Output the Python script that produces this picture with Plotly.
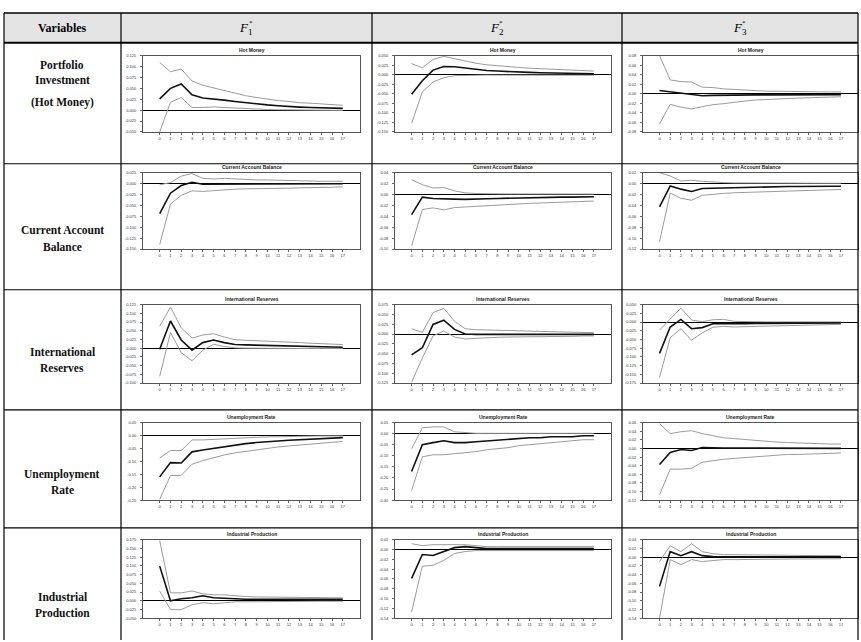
import plotly.graph_objects as go

W, H = 861, 642

horizons = list(range(18))
x_tick_labels = [str(h) for h in horizons]

variables = ["Hot Money", "Current Account Balance", "International Reserves",
             "Unemployment Rate", "Industrial Production"]
factor_labels = ["1", "2", "3"]

# ---------------- Hot Money ----------------
hot_f1_mid = [0.026, 0.050, 0.060, 0.035, 0.028, 0.026, 0.023, 0.020, 0.017, 0.014, 0.012, 0.010, 0.008, 0.007, 0.006, 0.005, 0.0045, 0.004]
hot_f1_up = [0.109, 0.088, 0.094, 0.067, 0.057, 0.051, 0.045, 0.039, 0.033, 0.029, 0.025, 0.022, 0.020, 0.017, 0.016, 0.014, 0.013, 0.011]
hot_f1_lo = [-0.050, 0.018, 0.029, 0.006, 0.006, 0.0075, 0.006, 0.0045, 0.003, 0.002, 0.0015, 0.001, 0.0005, 0.0, 0.0, -0.0005, -0.0005, -0.0005]

hot_f2_mid = [-0.051, -0.016, 0.012, 0.0215, 0.0207, 0.017, 0.0138, 0.011, 0.0095, 0.0078, 0.007, 0.006, 0.005, 0.0043, 0.0035, 0.0035, 0.0026, 0.0026]
hot_f2_up = [0.029, 0.018, 0.040, 0.048, 0.042, 0.035, 0.030, 0.026, 0.023, 0.021, 0.019, 0.017, 0.0155, 0.0138, 0.013, 0.011, 0.0103, 0.0095]
hot_f2_lo = [-0.127, -0.045, -0.019, -0.0078, -0.0026, -0.0017, -0.001, -0.001, -0.0012, -0.0012, -0.0013, -0.0013, -0.0014, -0.0014, -0.0015, -0.0015, -0.0015, -0.0015]

hot_f3_mid = [0.0069, 0.004, 0.0007, -0.0007, -0.004, -0.0034, -0.0028, -0.0025, -0.0024, -0.0023, -0.0022, -0.0022, -0.0021, -0.0021, -0.002, -0.002, -0.002, -0.002]
hot_f3_up = [0.080, 0.029, 0.0255, 0.0248, 0.0138, 0.013, 0.0103, 0.009, 0.0076, 0.0069, 0.0055, 0.0055, 0.0048, 0.0048, 0.004, 0.004, 0.004, 0.004]
hot_f3_lo = [-0.0634, -0.022, -0.028, -0.0317, -0.027, -0.0228, -0.0207, -0.0172, -0.0152, -0.013, -0.0117, -0.0103, -0.0097, -0.009, -0.0083, -0.0076, -0.0069, -0.0062]

# ---------------- Current Account Balance ----------------
cab_f1_mid = [-0.069, -0.022, -0.0045, 0.003, -0.0015, -0.0015, -0.001, -0.001, -0.001, -0.001, -0.0008, -0.0008, -0.0006, -0.0006, -0.0005, -0.0005, -0.0004, -0.0004]
cab_f1_up = [-0.003, 0.0023, 0.017, 0.023, 0.012, 0.0106, 0.012, 0.0106, 0.009, 0.0083, 0.0083, 0.0075, 0.0068, 0.0068, 0.006, 0.0053, 0.0053, 0.0053]
cab_f1_lo = [-0.1395, -0.0468, -0.027, -0.0166, -0.018, -0.0158, -0.0136, -0.0128, -0.012, -0.012, -0.0113, -0.0113, -0.0106, -0.0098, -0.0098, -0.009, -0.0083, -0.0075]

cab_f2_mid = [-0.037, -0.0048, -0.0072, -0.0084, -0.0084, -0.009, -0.009, -0.0078, -0.0072, -0.0066, -0.006, -0.0054, -0.0054, -0.0048, -0.0048, -0.0048, -0.0042, -0.0042]
cab_f2_up = [0.027, 0.018, 0.012, 0.0126, 0.0066, 0.003, 0.0018, 0.0012, 0.001, 0.001, 0.001, 0.001, 0.001, 0.0008, 0.0008, 0.0008, 0.0008, 0.0008]
cab_f2_lo = [-0.094, -0.0275, -0.0245, -0.0281, -0.024, -0.0228, -0.0216, -0.0198, -0.0192, -0.018, -0.0174, -0.0162, -0.0156, -0.015, -0.0144, -0.0138, -0.0126, -0.012]

cab_f3_mid = [-0.0425, -0.0042, -0.0102, -0.0144, -0.009, -0.0084, -0.0078, -0.0072, -0.0068, -0.0066, -0.006, -0.006, -0.0054, -0.0054, -0.0048, -0.0048, -0.0048, -0.0048]
cab_f3_up = [0.020, 0.0138, 0.0048, 0.006, 0.0042, 0.0024, 0.0018, 0.0012, 0.001, 0.001, 0.0008, 0.0008, 0.0008, 0.0006, 0.0006, 0.0006, 0.0006, 0.0006]
cab_f3_lo = [-0.1066, -0.0174, -0.027, -0.0305, -0.0216, -0.0192, -0.018, -0.0168, -0.0162, -0.0156, -0.015, -0.0144, -0.0138, -0.0132, -0.0126, -0.012, -0.0114, -0.0108]

# ---------------- International Reserves ----------------
ir_f1_mid = [-0.003, 0.078, 0.0236, -0.0057, 0.016, 0.0236, 0.016, 0.0104, 0.0094, 0.0085, 0.0075, 0.0066, 0.0057, 0.0047, 0.0047, 0.0038, 0.0038, 0.0028]
ir_f1_up = [0.063, 0.118, 0.0585, 0.029, 0.0377, 0.0415, 0.032, 0.0245, 0.0226, 0.0217, 0.0198, 0.018, 0.017, 0.016, 0.0142, 0.0132, 0.0113, 0.0104]
ir_f1_lo = [-0.081, 0.045, -0.013, -0.036, -0.0057, 0.0113, 0.0047, 0.001, 0.0, -0.0005, -0.0005, -0.0008, -0.0008, -0.001, -0.001, -0.001, -0.001, -0.001]

ir_f2_mid = [-0.053, -0.035, 0.0244, 0.0353, 0.0118, 0.0, -0.001, -0.001, -0.001, -0.001, -0.001, -0.001, -0.001, -0.001, -0.001, -0.001, -0.001, -0.001]
ir_f2_up = [0.0134, 0.0042, 0.0546, 0.0655, 0.0328, 0.0134, 0.011, 0.010, 0.010, 0.009, 0.0084, 0.0076, 0.0067, 0.006, 0.005, 0.0042, 0.0034, 0.0034]
ir_f2_lo = [-0.123, -0.0613, -0.005, 0.0076, -0.0076, -0.0126, -0.011, -0.0092, -0.0084, -0.0076, -0.0076, -0.0067, -0.0067, -0.0059, -0.0059, -0.0059, -0.005, -0.005]

ir_f3_mid = [-0.0898, -0.0142, 0.0076, -0.019, -0.016, -0.0047, -0.0038, -0.0047, -0.0047, -0.004, -0.0038, -0.0035, -0.0033, -0.003, -0.003, -0.0028, -0.0028, -0.0028]
ir_f3_up = [-0.0227, 0.0076, 0.040, 0.0057, 0.001, 0.0066, 0.0076, 0.002, 0.001, 0.0008, 0.0006, 0.0005, 0.0005, 0.0005, 0.0004, 0.0004, 0.0004, 0.0004]
ir_f3_lo = [-0.159, -0.045, -0.019, -0.052, -0.031, -0.015, -0.0123, -0.0142, -0.0132, -0.0123, -0.0113, -0.0104, -0.0095, -0.0085, -0.0076, -0.0076, -0.0066, -0.0066]

# ---------------- Unemployment Rate ----------------
ur_f1_mid = [-0.160, -0.1047, -0.106, -0.063, -0.0556, -0.049, -0.0426, -0.036, -0.031, -0.027, -0.023, -0.0207, -0.018, -0.0155, -0.013, -0.0116, -0.009, -0.0078]
ur_f1_up = [-0.0866, -0.058, -0.058, -0.0168, -0.0168, -0.0142, -0.0116, -0.009, -0.0078, -0.0065, -0.0052, -0.0039, -0.0039, -0.0026, -0.0026, -0.0013, -0.0013, -0.0013]
ur_f1_lo = [-0.247, -0.155, -0.154, -0.111, -0.097, -0.085, -0.075, -0.067, -0.061, -0.054, -0.049, -0.044, -0.040, -0.036, -0.032, -0.028, -0.026, -0.023]

ur_f2_mid = [-0.171, -0.05, -0.04, -0.032, -0.04, -0.04, -0.036, -0.032, -0.027, -0.025, -0.022, -0.018, -0.018, -0.0135, -0.0135, -0.0135, -0.009, -0.009]
ur_f2_up = [-0.068, 0.027, 0.031, 0.031, 0.009, 0.0045, 0.002, 0.002, 0.002, 0.002, 0.002, 0.002, 0.002, 0.002, 0.002, 0.002, 0.002, 0.002]
ur_f2_lo = [-0.257, -0.104, -0.095, -0.095, -0.09, -0.086, -0.081, -0.072, -0.068, -0.063, -0.054, -0.05, -0.045, -0.04, -0.036, -0.032, -0.027, -0.027]

ur_f3_mid = [-0.037, -0.009, -0.0023, -0.0046, 0.0023, 0.0012, 0.001, 0.001, 0.0008, 0.0008, 0.0006, 0.0006, 0.0005, 0.0005, 0.0004, 0.0004, 0.0003, 0.0003]
ur_f3_up = [0.0577, 0.0346, 0.039, 0.0415, 0.0346, 0.030, 0.025, 0.023, 0.021, 0.0185, 0.016, 0.015, 0.0138, 0.0127, 0.0115, 0.0115, 0.0104, 0.0104]
ur_f3_lo = [-0.108, -0.048, -0.048, -0.046, -0.032, -0.028, -0.025, -0.023, -0.021, -0.0185, -0.017, -0.016, -0.0138, -0.0138, -0.0127, -0.0115, -0.0115, -0.0104]

# ---------------- Industrial Production ----------------
ip_f1_mid = [0.0994, 0.0, 0.0057, 0.0085, 0.0142, 0.0085, 0.007, 0.005, 0.0045, 0.004, 0.004, 0.004, 0.004, 0.004, 0.004, 0.004, 0.004, 0.004]
ip_f1_up = [0.173, 0.0227, 0.0227, 0.028, 0.020, 0.017, 0.017, 0.014, 0.012, 0.011, 0.011, 0.010, 0.010, 0.0095, 0.009, 0.009, 0.0085, 0.0085]
ip_f1_lo = [0.028, -0.0256, -0.0256, -0.0114, -0.0057, -0.0085, -0.006, -0.003, -0.003, -0.0025, -0.0025, -0.002, -0.002, -0.002, -0.0015, -0.0015, -0.0015, -0.0015]

ip_f2_mid = [-0.0586, -0.0101, -0.012, -0.004, 0.004, 0.006, 0.004, 0.002, 0.002, 0.002, 0.002, 0.002, 0.002, 0.002, 0.002, 0.002, 0.002, 0.002]
ip_f2_up = [0.012, 0.008, 0.010, 0.010, 0.010, 0.010, 0.008, 0.006, 0.006, 0.006, 0.006, 0.006, 0.006, 0.006, 0.006, 0.006, 0.006, 0.006]
ip_f2_lo = [-0.127, -0.034, -0.032, -0.022, -0.008, -0.004, -0.002, -0.002, -0.002, -0.002, -0.002, -0.002, -0.002, -0.002, -0.002, -0.002, -0.002, -0.002]

ip_f3_mid = [-0.067, 0.0128, 0.0036, 0.0128, 0.0036, 0.0014, 0.001, 0.001, 0.001, 0.001, 0.001, 0.001, 0.001, 0.001, 0.001, 0.001, 0.001, 0.001]
ip_f3_up = [-0.010, 0.0264, 0.0128, 0.031, 0.0128, 0.008, 0.006, 0.006, 0.0055, 0.005, 0.005, 0.0045, 0.0045, 0.004, 0.004, 0.004, 0.0036, 0.0036]
ip_f3_lo = [-0.14, -0.0055, -0.017, -0.0055, -0.010, -0.0077, -0.0055, -0.0055, -0.005, -0.005, -0.0045, -0.0045, -0.004, -0.004, -0.004, -0.0035, -0.0035, -0.0035]

# y-axis tick values (bottom, top, step, decimals) per panel
hot_ticks = [(-0.050, 0.125, 0.025, 3), (-0.150, 0.050, 0.025, 3), (-0.08, 0.08, 0.02, 2)]
cab_ticks = [(-0.150, 0.025, 0.025, 3), (-0.10, 0.04, 0.02, 2), (-0.12, 0.02, 0.02, 2)]
ir_ticks = [(-0.100, 0.125, 0.025, 3), (-0.125, 0.075, 0.025, 3), (-0.175, 0.050, 0.025, 3)]
ur_ticks = [(-0.25, 0.05, 0.05, 2), (-0.30, 0.05, 0.05, 2), (-0.12, 0.06, 0.02, 2)]
ip_ticks = [(-0.050, 0.175, 0.025, 3), (-0.14, 0.02, 0.02, 2), (-0.14, 0.04, 0.02, 2)]

row_series = [
    [(hot_f1_mid, hot_f1_up, hot_f1_lo), (hot_f2_mid, hot_f2_up, hot_f2_lo), (hot_f3_mid, hot_f3_up, hot_f3_lo)],
    [(cab_f1_mid, cab_f1_up, cab_f1_lo), (cab_f2_mid, cab_f2_up, cab_f2_lo), (cab_f3_mid, cab_f3_up, cab_f3_lo)],
    [(ir_f1_mid, ir_f1_up, ir_f1_lo), (ir_f2_mid, ir_f2_up, ir_f2_lo), (ir_f3_mid, ir_f3_up, ir_f3_lo)],
    [(ur_f1_mid, ur_f1_up, ur_f1_lo), (ur_f2_mid, ur_f2_up, ur_f2_lo), (ur_f3_mid, ur_f3_up, ur_f3_lo)],
    [(ip_f1_mid, ip_f1_up, ip_f1_lo), (ip_f2_mid, ip_f2_up, ip_f2_lo), (ip_f3_mid, ip_f3_up, ip_f3_lo)],
]
row_ticks = [hot_ticks, cab_ticks, ir_ticks, ur_ticks, ip_ticks]

# ---------------- layout geometry (pixels) ----------------
col_frames = [(143, 360), (395, 611), (643, 858)]
row_frames = [(53, 130), (171, 248), (304, 383), (423, 501), (541, 620)]
col_lines = [4, 121, 372, 622, 858]
row_lines = [162, 289, 410, 529]


def px(x):
    return x / W


def py(y):
    return 1 - y / H


fig = go.Figure()
layout_axes = {}
annotations = []
shapes = []

SANS = "Liberation Sans"
SERIF = "Liberation Serif"

idx = 0
for r in range(5):
    for c in range(3):
        idx += 1
        xa = "x" if idx == 1 else f"x{idx}"
        ya = "y" if idx == 1 else f"y{idx}"
        mid, up, lo = row_series[r][c]
        for series, color, width in ((up, "#9b9b9b", 1.0), (lo, "#9b9b9b", 1.0), (mid, "#111111", 1.6)):
            fig.add_trace(go.Scatter(x=horizons, y=series, mode="lines", xaxis=xa, yaxis=ya,
                                     line=dict(color=color, width=width), showlegend=False,
                                     hoverinfo="skip"))
        lo_v, hi_v, step, dec = row_ticks[r][c]
        n = int(round((hi_v - lo_v) / step))
        tvals = [round(lo_v + k * step, 4) for k in range(n + 1)]
        ttext = [f"{v:.{dec}f}" if abs(v) > 1e-9 else f"{0:.{dec}f}" for v in tvals]
        x0, x1 = col_frames[c]
        y0, y1 = row_frames[r]
        key = "" if idx == 1 else str(idx)
        layout_axes[f"xaxis{key}"] = dict(
            domain=[px(x0), px(x1)], anchor=ya, range=[-1.55, 18.6],
            tickmode="array", tickvals=horizons, ticktext=x_tick_labels,
            tickfont=dict(family=SANS, size=4, color="#333"), ticks="outside", ticklen=2,
            tickcolor="#666", showgrid=False, zeroline=False, showline=True, mirror=True,
            linecolor="#555", linewidth=1, fixedrange=True)
        layout_axes[f"yaxis{key}"] = dict(
            domain=[py(y1), py(y0)], anchor=xa, range=[lo_v, hi_v],
            tickmode="array", tickvals=tvals, ticktext=ttext,
            tickfont=dict(family=SANS, size=4, color="#333"), ticks="outside", ticklen=2,
            tickcolor="#666", ticklabelstandoff=3, showgrid=False, zeroline=True,
            zerolinecolor="#000", zerolinewidth=1.4, showline=True, mirror=True,
            linecolor="#555", linewidth=1, fixedrange=True)
        annotations.append(dict(text=f"<b>{variables[r]}</b>", x=px((x0 + x1) / 2), y=py(y0 - 1),
                                xref="paper", yref="paper", xanchor="center", yanchor="bottom",
                                showarrow=False, font=dict(family=SANS, size=5, color="#222")))

# ---------------- table ----------------
shapes.append(dict(type="rect", xref="paper", yref="paper", x0=px(col_lines[0]), x1=px(col_lines[-1]),
                   y0=py(40), y1=py(10), fillcolor="#e4e4e4", line=dict(width=0), layer="below"))
shapes.append(dict(type="line", xref="paper", yref="paper", x0=px(col_lines[0]), x1=px(col_lines[-1]),
                   y0=py(10), y1=py(10), line=dict(color="#000", width=1.5)))
shapes.append(dict(type="line", xref="paper", yref="paper", x0=px(col_lines[0]), x1=px(col_lines[-1]),
                   y0=py(40), y1=py(40), line=dict(color="#000", width=2)))
for yl in row_lines:
    shapes.append(dict(type="line", xref="paper", yref="paper", x0=px(col_lines[0]), x1=px(col_lines[-1]),
                       y0=py(yl), y1=py(yl), line=dict(color="#000", width=1.2)))
for xl in col_lines:
    shapes.append(dict(type="line", xref="paper", yref="paper", x0=px(xl), x1=px(xl),
                       y0=py(10), y1=py(H), line=dict(color="#000", width=1.2)))

annotations.append(dict(text="<b>Variables</b>", x=px(62), y=py(25), xref="paper", yref="paper",
                        showarrow=False, xanchor="center", yanchor="middle",
                        font=dict(family=SERIF, size=12, color="#000")))
for c in range(3):
    cx = (col_lines[c + 1] + col_lines[c + 2]) / 2
    annotations.append(dict(text=f"<i>F</i><sub>{factor_labels[c]}</sub>", x=px(cx), y=py(26),
                            xref="paper", yref="paper", showarrow=False, xanchor="center",
                            yanchor="middle", font=dict(family=SERIF, size=13, color="#000")))
    annotations.append(dict(text="*", x=px(cx + 4), y=py(20), xref="paper", yref="paper",
                            showarrow=False, xanchor="center", yanchor="middle",
                            font=dict(family=SERIF, size=7, color="#000")))

left_labels = [("Portfolio", 62), ("Investment", 78), ("(Hot Money)", 100),
               ("Current Account", 229), ("Balance", 246),
               ("International", 352), ("Reserves", 368),
               ("Unemployment", 475), ("Rate", 491),
               ("Industrial", 599), ("Production", 615)]
for txt, yy in left_labels:
    annotations.append(dict(text=f"<b>{txt}</b>", x=px(62), y=py(yy), xref="paper", yref="paper",
                            showarrow=False, xanchor="center", yanchor="middle",
                            font=dict(family=SERIF, size=11.5, color="#111")))

fig.update_layout(width=W, height=H, margin=dict(l=0, r=0, t=0, b=0, pad=0),
                  paper_bgcolor="white", plot_bgcolor="white", showlegend=False,
                  annotations=annotations, shapes=shapes, **layout_axes)

fig.write_html("out.html", config={"displayModeBar": False})
